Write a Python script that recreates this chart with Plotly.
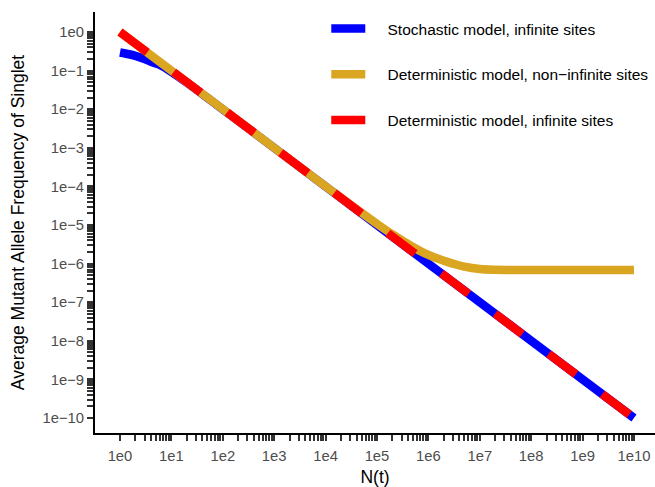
import plotly.graph_objects as go

# ---- data ----
blue_N = [1, 1.5, 2, 3, 4, 6, 10, 20, 50, 100, 1e10]
blue_y = [0.295, 0.265, 0.24, 0.2, 0.17, 0.14, 0.093, 0.049, 0.0198, 0.0099, 1e-10]

gold_N = [1, 10, 100, 1e3, 1e4, 1e5, 2e5, 5e5, 1e6, 2e6, 3e6, 5e6, 1e7, 2e7, 1e8, 1e9, 1e10]
gold_y = [1, 0.1, 0.01, 1e-3, 1e-4, 1.07e-5, 5.7e-6, 2.7e-6, 1.67e-6, 1.18e-6, 1.0e-6,
          8.3e-7, 7.2e-7, 6.9e-7, 6.8e-7, 6.8e-7, 6.8e-7]

red_N = [1, 1e10]
red_y = [1, 1e-10]

series_names = ["Stochastic model, infinite sites",
                "Deterministic model, non\u2212infinite sites",
                "Deterministic model, infinite sites"]

x_major = [10 ** k for k in range(0, 11)]
x_labels = ["1e%d" % k for k in range(0, 11)]
y_major = [10.0 ** (-k) for k in range(0, 11)]
y_labels = ["1e0"] + ["1e\u2212%d" % k for k in range(1, 11)]
x_minor = [m * 10 ** k for k in range(0, 10) for m in range(2, 10)]
y_minor = [m * 10.0 ** (-k) for k in range(1, 11) for m in range(2, 10)]

FONT = "Liberation Sans, Arial, sans-serif"
LW = 8.5
NB = "\u00a0" * 4

fig = go.Figure()
fig.add_trace(go.Scatter(x=blue_N, y=blue_y, mode="lines", name=NB + series_names[0],
                         legendgroup="a",
                         line=dict(color="#0000FF", width=LW, shape="spline")))
fig.add_trace(go.Scatter(x=gold_N, y=gold_y, mode="lines", name=NB + series_names[1],
                         legendgroup="b",
                         line=dict(color="#DAA520", width=LW, shape="spline")))
fig.add_trace(go.Scatter(x=red_N, y=red_y, mode="lines", name=NB + series_names[2],
                         legendgroup="c",
                         line=dict(color="#FF0000", width=LW, dash="34px,33px")))

axis_common = dict(
    type="log", showgrid=False, zeroline=False,
    showline=True, linecolor="black", linewidth=2,
    ticks="outside", ticklen=6, tickwidth=1.5, tickcolor="#333333",
    tickfont=dict(family=FONT, size=14.8, color="#4D4D4D"),
    title_font=dict(family=FONT, size=17.5, color="black"),
)

fig.update_xaxes(range=[-0.486, 10.409], tickvals=x_major, ticktext=x_labels,
                 minor=dict(tickvals=x_minor, ticks="outside", ticklen=6,
                            tickwidth=1.5, tickcolor="#333333", showgrid=False),
                 ticklabelstandoff=2,
                 title_text="N(t)", title_standoff=9, automargin=False, **axis_common)
fig.update_yaxes(range=[-10.389, 0.518], tickvals=y_major, ticktext=y_labels,
                 minor=dict(tickvals=y_minor, ticks="outside", ticklen=6,
                            tickwidth=1.5, tickcolor="#333333", showgrid=False),
                 title_text="Average Mutant Allele Frequency of Singlet",
                 title_standoff=13, automargin=False, **axis_common)

fig.update_layout(
    width=655, height=487,
    margin=dict(l=95, r=0, t=12, b=54, autoexpand=False),
    paper_bgcolor="white", plot_bgcolor="white",
    font=dict(family=FONT, color="black"),
    legend=dict(x=0.413, y=1.0, xanchor="left", yanchor="top",
                font=dict(family=FONT, size=15.5, color="black"),
                bgcolor="rgba(0,0,0,0)", traceorder="grouped",
                tracegroupgap=22.5, itemwidth=34),
)

fig.write_html("out.html")
